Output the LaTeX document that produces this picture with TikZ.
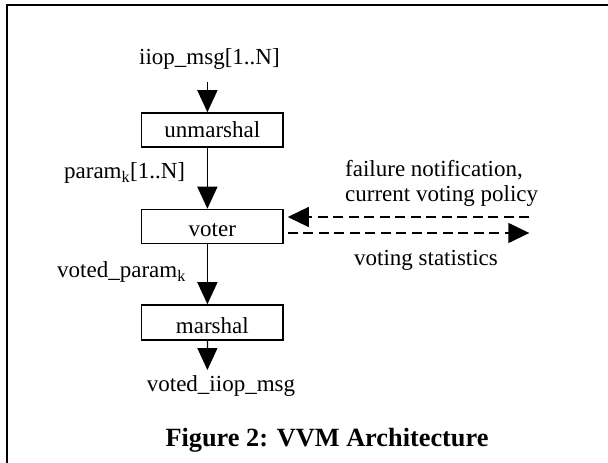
\documentclass[tikz,border=0pt]{standalone}
\usepackage{fontspec}
\setmainfont{Liberation Serif}
\usetikzlibrary{arrows.meta}
\begin{document}
\begin{tikzpicture}[x=1bp,y=-1bp,
  txt/.style={font=\fontsize{23bp}{27bp}\selectfont,inner sep=0pt,anchor=base},
  blk/.style={draw,line width=1.5bp,minimum width=141.5bp,minimum height=34bp,inner sep=0pt},
  arr/.style={line width=1.3bp,-{Triangle[length=22bp,width=20bp]}},
  darr/.style={line width=1.5bp,dash pattern=on 10bp off 5.5bp,-{Triangle[length=21bp,width=20bp]}}]
\useasboundingbox (0,0) rectangle (608,463);
\draw[line width=2bp] (7,463) -- (7,5) -- (608,5);
% blocks
\node[blk] (u) at (212.3,130) {};
\node[blk] (v) at (212.3,226.5) {};
\node[blk,minimum height=35bp] (m) at (212.3,322.5) {};
\node[txt] at (212.3,138) {unmarshal};
\node[txt] at (212.3,236.5) {voter};
\node[txt] at (212.3,333) {marshal};
% texts
\node[txt] (in) at (209.4,65) {iiop\_msg[1..N]};
\node[txt,anchor=base east] (pk) at (185.3,179) {param\textsubscript{k}[1..N]};
\node[txt,anchor=base east] (vp) at (186,278) {voted\_param\textsubscript{k}};
\node[txt] (out) at (221,391) {voted\_iiop\_msg};
\node[txt,anchor=base west] (f1) at (345,176.5) {failure notification,};
\node[txt,anchor=base west] (f2) at (345,201.5) {current voting policy};
\node[txt] (vs) at (426,266) {voting statistics};
\node[txt,font=\fontsize{26.3bp}{30bp}\selectfont\bfseries] (cap) at (327,446) {Figure 2: VVM Architecture};
% connectors
\coordinate (a0) at (207.4,82);
\coordinate (r1) at (529.3,217);
\coordinate (r2) at (529.3,233);
\coordinate (o1) at (207.4,370);
\draw[arr] (a0) -- (a0 |- u.north);
\draw[arr] ([xshift=-4.9bp]u.south) -- ([xshift=-4.9bp]v.north);
\draw[arr] ([xshift=-4.9bp]v.south) -- ([xshift=-4.9bp]m.north);
\draw[arr] ([xshift=-4.9bp]m.south) -- (o1);
\draw[darr] (r1) -- ([xshift=4bp]v.east |- r1);
\draw[darr] ([xshift=4bp]v.east |- r2) -- (r2);
\end{tikzpicture}
\end{document}
